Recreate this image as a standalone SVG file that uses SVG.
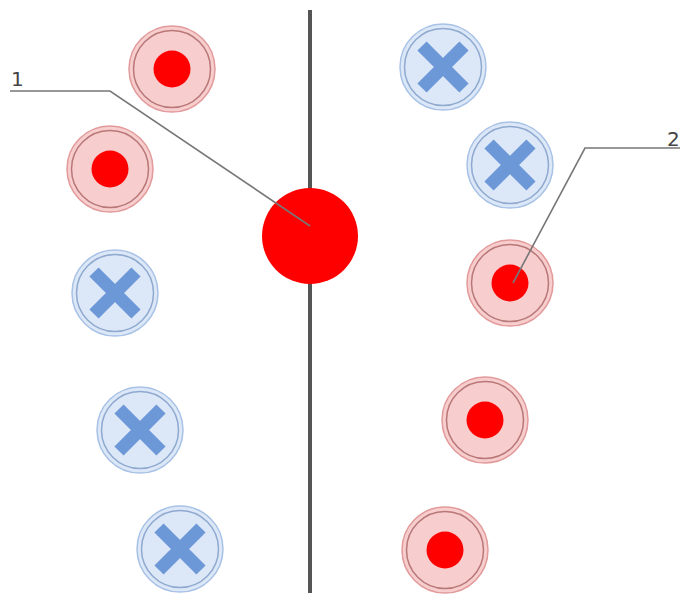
<svg xmlns="http://www.w3.org/2000/svg" width="680" height="600" viewBox="0 0 680 600">
<defs>
<style>
.ro{fill:#f7cdcd;stroke:#e29a9a;stroke-width:1.5}
.ri{fill:none;stroke:#b87878;stroke-width:1.5}
.dot{fill:#ff0000}
.bo{fill:#dce8f8;stroke:#a8c2e6;stroke-width:1.5}
.bi{fill:none;stroke:#8fa9cf;stroke-width:1.5}
.x{stroke:#6d98d8;stroke-width:13;stroke-linecap:butt}
.lead{fill:none;stroke:#777;stroke-width:1.6}
.lbl{font-family:"DejaVu Sans",sans-serif;font-size:20px;fill:#444}
</style>
<g id="red"><circle class="ro" r="43"/><circle class="ri" r="38.5"/><circle class="dot" r="18.5"/></g>
<g id="blue"><circle class="bo" r="43"/><circle class="bi" r="38.5"/><path class="x" d="M-21,-21L21,21M21,-21L-21,21"/></g>
</defs>
<rect width="680" height="600" fill="#fff"/>
<g id="axis"><line x1="310" y1="10" x2="310" y2="593" stroke="#555" stroke-width="4"/></g>
<g id="left1"><use href="#red" x="172" y="69"/></g>
<g id="left2"><use href="#red" x="110" y="169"/></g>
<g id="left3"><use href="#blue" x="115" y="293"/></g>
<g id="left4"><use href="#blue" x="140" y="430"/></g>
<g id="left5"><use href="#blue" x="180" y="549"/></g>
<g id="right1"><use href="#blue" x="443" y="67"/></g>
<g id="right2"><use href="#blue" x="510" y="165"/></g>
<g id="right3"><use href="#red" x="510" y="283"/></g>
<g id="right4"><use href="#red" x="485" y="420"/></g>
<g id="right5"><use href="#red" x="445" y="550"/></g>
<g id="center"><circle cx="310" cy="236" r="48" fill="#ff0000"/></g>
<g id="connectors">
<polyline class="lead" points="10,91 110,91 310,226"/>
<polyline class="lead" points="680,148 585,148 513,283"/>
</g>
<g id="labels">
<text class="lbl" x="11" y="86">1</text>
<text class="lbl" x="667" y="146">2</text>
</g>
</svg>
